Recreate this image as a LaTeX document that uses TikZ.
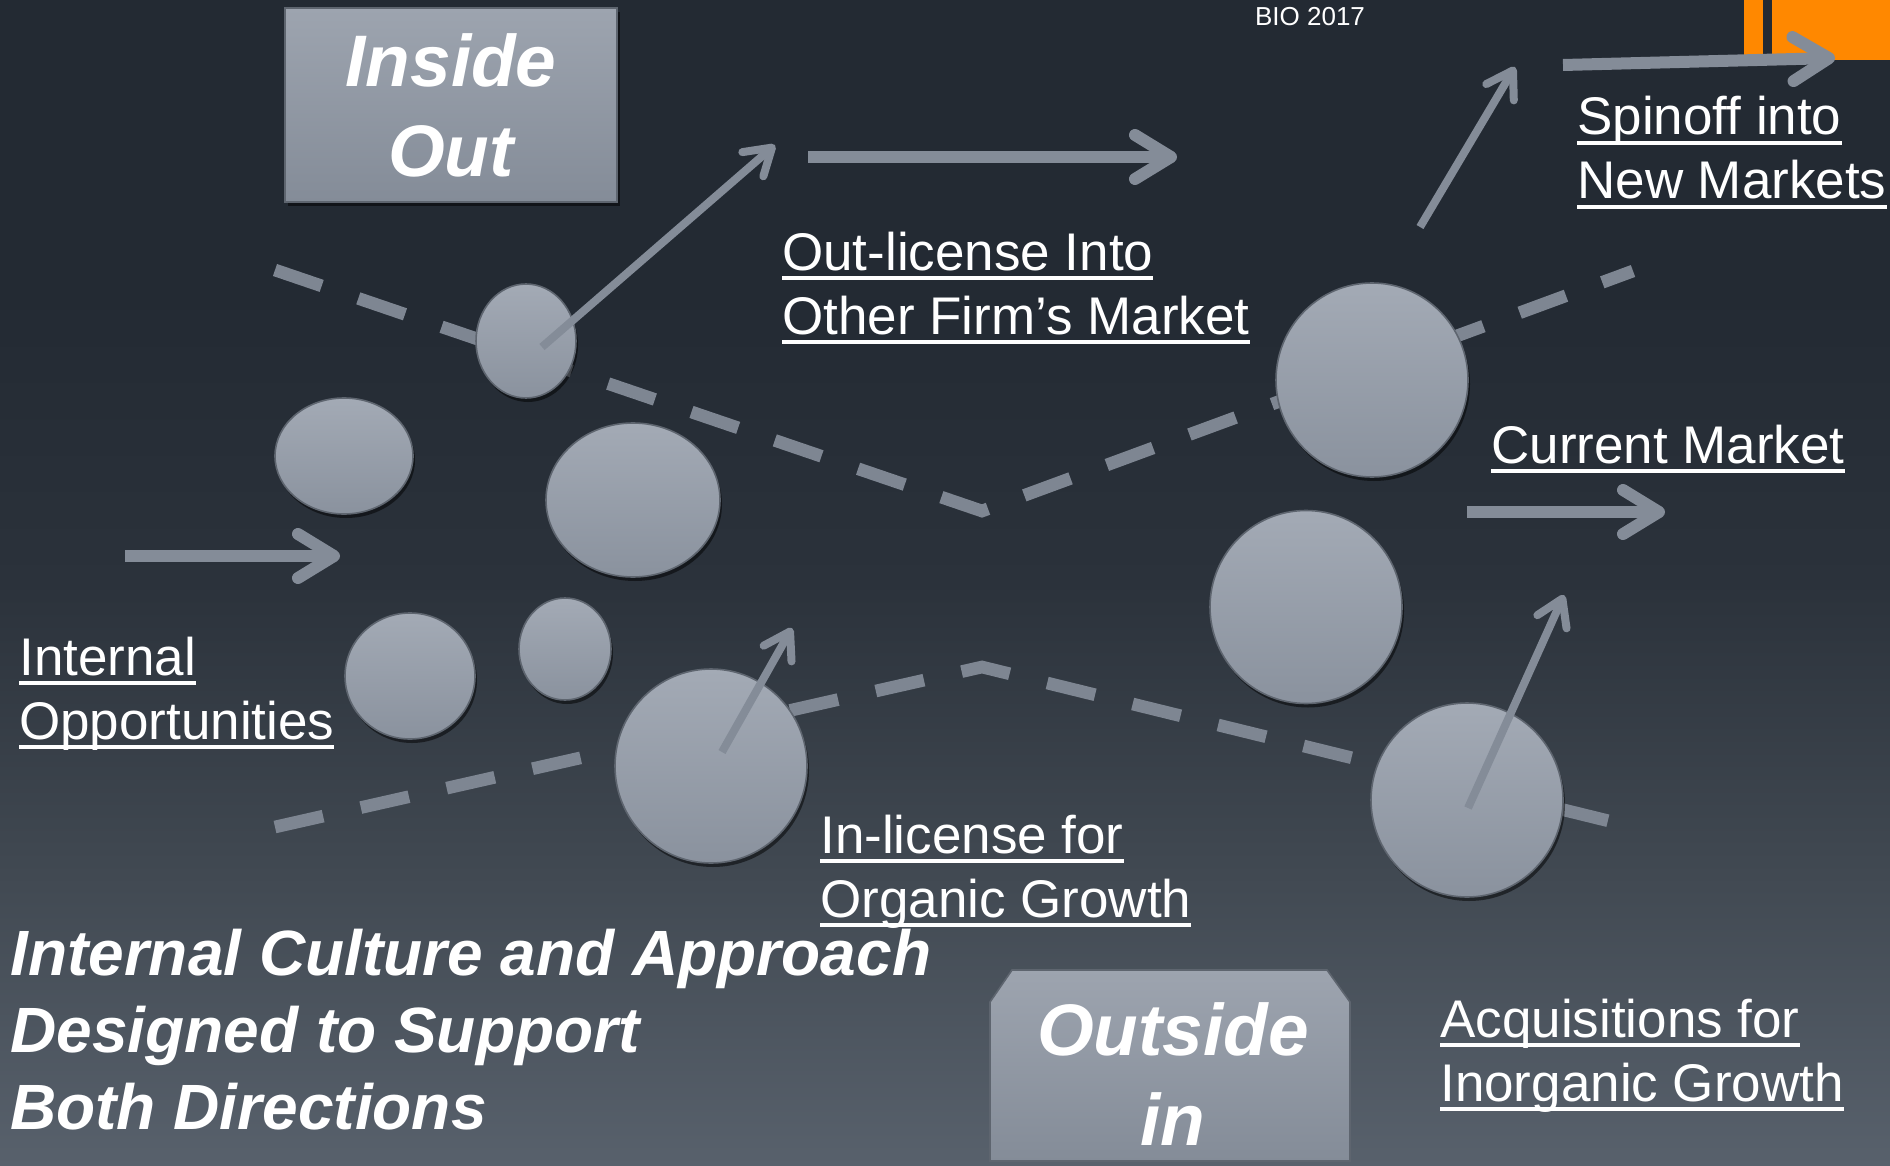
\documentclass[tikz,border=0pt]{standalone}
\usepackage{fontspec}
\setmainfont{Liberation Sans}
\usetikzlibrary{arrows.meta,shapes.geometric,shadows}

\definecolor{bgdark}{HTML}{232A33}
\definecolor{bgmid}{HTML}{2B323B}
\definecolor{bgsoft}{HTML}{414952}
\definecolor{bgpale}{HTML}{58616C}
\definecolor{steel}{HTML}{848C98}
\definecolor{dashgrey}{HTML}{7E8692}
\definecolor{blobhi}{HTML}{A3AAB5}
\definecolor{bloblo}{HTML}{8A929E}
\definecolor{blobrim}{HTML}{5E656F}
\definecolor{boxhi}{HTML}{9DA4AF}
\definecolor{boxlo}{HTML}{848C98}
\definecolor{tab}{HTML}{FF8800}

% path spans 25bp..75bp of the shading
\pgfdeclareverticalshading{backdrop}{100bp}{color(0bp)=(bgpale); color(25bp)=(bgpale); color(37.5bp)=(bgsoft); color(50bp)=(bgmid); color(62.5bp)=(bgdark); color(75bp)=(bgdark); color(100bp)=(bgdark)}

% underline at a fixed depth below the baseline
\newcommand\lnk[1]{\setbox0\hbox{#1}\rlap{\rule[-0.18em]{\wd0}{0.06em}}\box0}

\tikzset{
	blob/.style={ellipse, draw=blobrim, line width=1.2pt, top color=blobhi, bottom color=bloblo, inner sep=0pt,
		drop shadow={shadow xshift=1.5pt, shadow yshift=-3pt, opacity=0.5, fill=black}},
	dashline/.style={draw=dashgrey, line width=9.5pt, dash pattern=on 37pt off 29pt},
	fatarrow/.style={draw=steel, line width=9pt, -{Straight Barb[length=27pt, width=33pt, round]}},
	slimarrow/.style={draw=steel, line width=6pt, -{Straight Barb[length=19pt, width=24pt, round]}},
	lbl/.style={text=white, anchor=base west, align=left, inner sep=0pt, font=\fontsize{39.75}{48}\selectfont},
	boxtext/.style={text=white, align=center, font=\fontsize{54.75}{67.5}\selectfont\bfseries\itshape}
}

\begin{document}
\begin{tikzpicture}[x=0.75pt,y=0.75pt,yscale=-1,xscale=1]
	\useasboundingbox (0,0) rectangle (1890,1166);

	% backdrop
	\shade[shading=backdrop] (0,0) rectangle (1890,1166);

	% orange tab and event tag
	\fill[tab] (1744,0) rectangle (1763,57);
	\fill[tab] (1772,0) rectangle (1890,60);
	\node[text=white, font=\fontsize{19.5}{22}\selectfont] (bio) at (1310,17) {BIO 2017};

	% market borders
	\draw[dashline] (275,270) -- (982,511) -- (1633,271);
	\draw[dashline] (275,827) -- (982,667) -- (1609,821);

	% opportunities
	\node[blob, minimum width=75pt, minimum height=85.5pt] (c1) at (526,341) {};
	\node[blob, minimum width=103.5pt, minimum height=87pt] (c2) at (344,456) {};
	\node[blob, minimum width=130.5pt, minimum height=115.5pt] (c3) at (633,500) {};
	\node[blob, minimum width=97.5pt, minimum height=94.5pt] (c4) at (410,676) {};
	\node[blob, minimum width=69pt, minimum height=76.5pt] (c5) at (565,649) {};
	\node[blob, minimum width=144pt, minimum height=145.5pt] (c6) at (711,766) {};
	\node[blob, minimum width=144pt, minimum height=145.5pt] (c7) at (1372,380) {};
	\node[blob, minimum width=144pt, minimum height=144.75pt] (c8) at (1306,607) {};
	\node[blob, minimum width=144pt, minimum height=145.5pt] (c9) at (1467,800) {};

	% arrows
	\coordinate (in0) at (125,556);
	\coordinate (in1) at (340,556);
	\draw[fatarrow] (in0) -- (in1);
	\coordinate (out0) at (808,157);
	\coordinate (out1) at (1177,157);
	\draw[fatarrow] (out0) -- (out1);
	\coordinate (olic) at (775,145);
	\draw[slimarrow] ([shift={(16,6)}]c1.center) -- (olic);
	\coordinate (sp0) at (1420,227);
	\coordinate (sp1) at (1515,67);
	\draw[slimarrow] (sp0) -- (sp1);
	\coordinate (sp2) at (1563,65);
	\coordinate (sp3) at (1835,58);
	\draw[fatarrow] (sp2) -- (sp3);
	\coordinate (cm0) at (1467,512);
	\coordinate (cm1) at (1665,512);
	\draw[fatarrow] (cm0) -- (cm1);
	\coordinate (ilic) at (792,628);
	\draw[slimarrow] ([shift={(11,-14)}]c6.center) -- (ilic);
	\coordinate (acqt) at (1564,595);
	\draw[slimarrow] ([shift={(1,8)}]c9.center) -- (acqt);

	% direction boxes
	\node[draw=blobrim, line width=1.2pt, top color=boxhi, bottom color=boxlo, minimum width=249pt, minimum height=145.5pt,
		drop shadow={shadow xshift=2pt, shadow yshift=-3pt, opacity=0.5, fill=black}, boxtext] (inout) at (451,105) {Inside\\Out};
	\path[draw=blobrim, line width=1.2pt, top color=boxhi, bottom color=boxlo] (990,1002) -- (1012,970) -- (1327,970) -- (1350,1002) -- (1350,1161) -- (990,1161) -- cycle;
	\node[boxtext] (outin) at (1173,1074) {Outside\\in};

	% labels (base = last line)
	\node[lbl] (outlic) at (782,334) {\lnk{Out-license Into}\\\lnk{Other Firm’s Market}};
	\node[lbl] (spin) at (1577,199) {\lnk{Spinoff into}\\\lnk{New Markets}};
	\node[lbl] (curmkt) at (1491,463) {\lnk{Current Market}};
	\node[lbl] (intopp) at (19,739) {\lnk{Internal}\\\lnk{Opportunities}};
	\node[lbl] (inlic) at (820,917) {\lnk{In-license for}\\\lnk{Organic Growth}};
	\node[lbl] (acq) at (1440,1101) {\lnk{Acquisitions for}\\\lnk{Inorganic Growth}};
	\node[lbl, font=\fontsize{48}{57.75}\selectfont\bfseries\itshape] (culture) at (10,1129) {Internal Culture and Approach\\Designed to Support\\Both Directions};

\end{tikzpicture}
\end{document}
